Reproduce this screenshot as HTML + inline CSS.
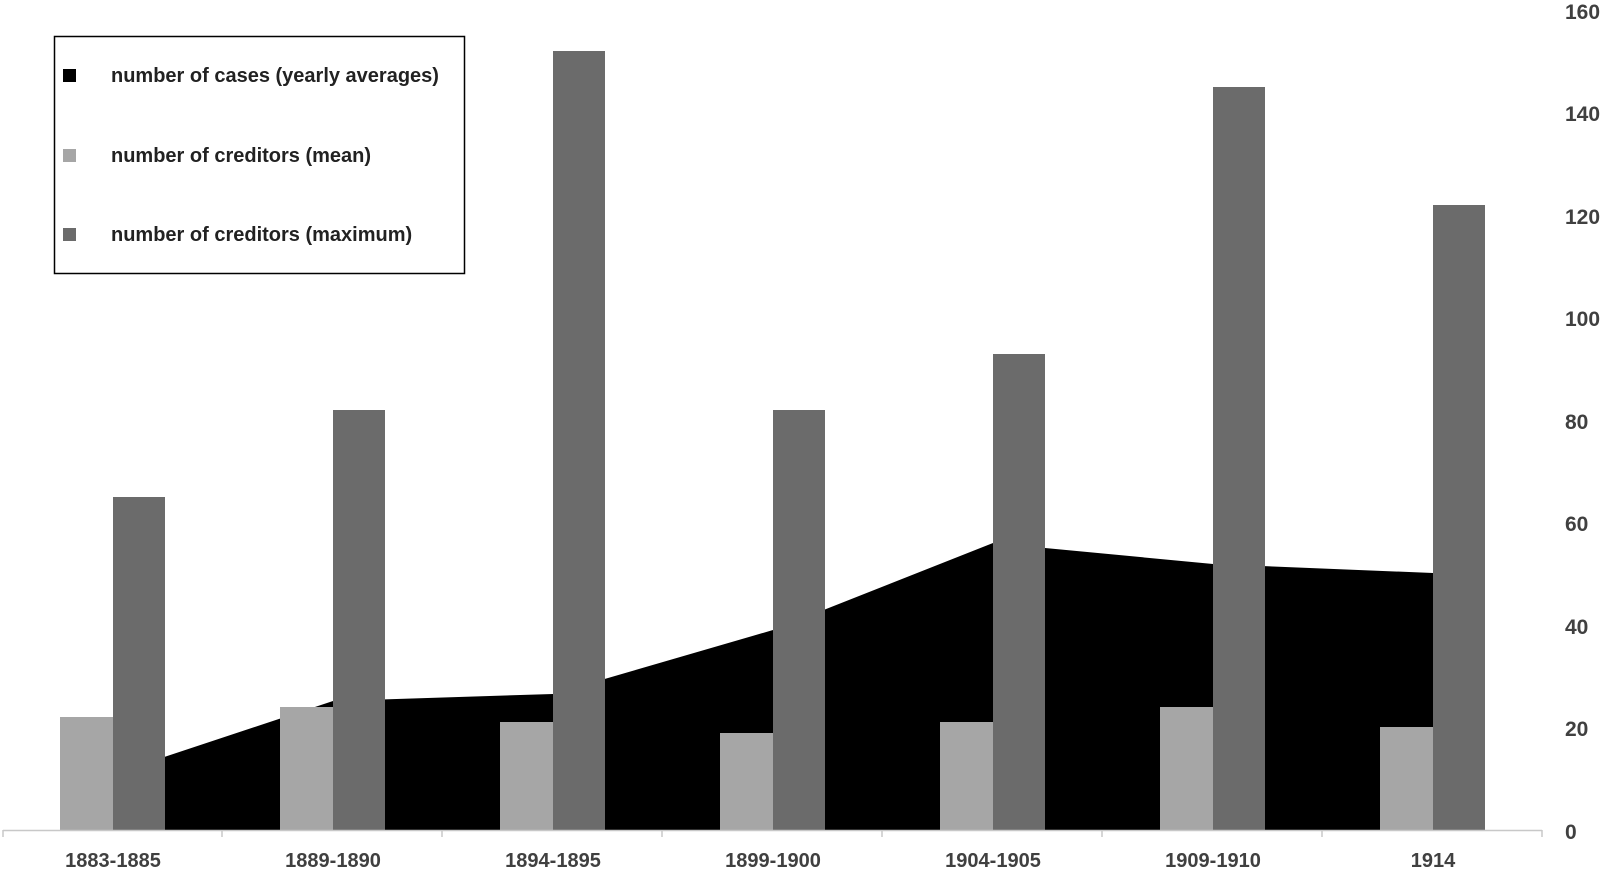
<!DOCTYPE html>
<html><head><style>body{margin:0;background:#fff}</style></head><body>
<svg width="1605" height="870" xmlns="http://www.w3.org/2000/svg" font-family="Liberation Sans, sans-serif" font-weight="bold">
<rect width="1605" height="870" fill="#fff"/>
<polygon fill="#000" points="113,774 333,701 553,694 773,630 993,543 1213,564 1433,573 1433,830 113,830"/>
<g fill="#a6a6a6">
<rect x="60" y="717" width="53" height="113"/>
<rect x="280" y="707" width="53" height="123"/>
<rect x="500" y="722" width="53" height="108"/>
<rect x="720" y="733" width="53" height="97"/>
<rect x="940" y="722" width="53" height="108"/>
<rect x="1160" y="707" width="53" height="123"/>
<rect x="1380" y="727" width="53" height="103"/>
</g>
<g fill="#6b6b6b">
<rect x="113" y="497" width="52" height="333"/>
<rect x="333" y="410" width="52" height="420"/>
<rect x="553" y="51" width="52" height="779"/>
<rect x="773" y="410" width="52" height="420"/>
<rect x="993" y="354" width="52" height="476"/>
<rect x="1213" y="87" width="52" height="743"/>
<rect x="1433" y="205" width="52" height="625"/>
</g>
<g stroke="#c8c8c8" stroke-width="1.5">
<line x1="3" y1="830.5" x2="1542" y2="830.5"/>
<line x1="3" y1="830" x2="3" y2="837"/><line x1="222" y1="830" x2="222" y2="837"/><line x1="442" y1="830" x2="442" y2="837"/><line x1="662" y1="830" x2="662" y2="837"/><line x1="882" y1="830" x2="882" y2="837"/><line x1="1102" y1="830" x2="1102" y2="837"/><line x1="1322" y1="830" x2="1322" y2="837"/><line x1="1542" y1="830" x2="1542" y2="837"/>
</g>
<g fill="#404040" font-size="20" text-anchor="middle">
<text x="113" y="867">1883-1885</text><text x="333" y="867">1889-1890</text><text x="553" y="867">1894-1895</text><text x="773" y="867">1899-1900</text><text x="993" y="867">1904-1905</text><text x="1213" y="867">1909-1910</text><text x="1433" y="867">1914</text>
</g>
<g fill="#404040" font-size="21">
<text x="1565" y="839">0</text><text x="1565" y="736">20</text><text x="1565" y="634">40</text><text x="1565" y="531">60</text><text x="1565" y="429">80</text><text x="1565" y="326">100</text><text x="1565" y="224">120</text><text x="1565" y="121">140</text><text x="1565" y="19">160</text>
</g>
<rect x="54.5" y="36.5" width="410" height="237" fill="#fff" stroke="#000" stroke-width="1.5"/>
<rect x="63" y="69" width="13" height="13" fill="#000"/>
<rect x="63" y="149" width="13" height="13" fill="#a6a6a6"/>
<rect x="63" y="228" width="13" height="13" fill="#6b6b6b"/>
<g fill="#222" font-size="20">
<text x="111" y="82">number of cases (yearly averages)</text>
<text x="111" y="162">number of creditors (mean)</text>
<text x="111" y="241">number of creditors (maximum)</text>
</g>
</svg>
</body></html>
